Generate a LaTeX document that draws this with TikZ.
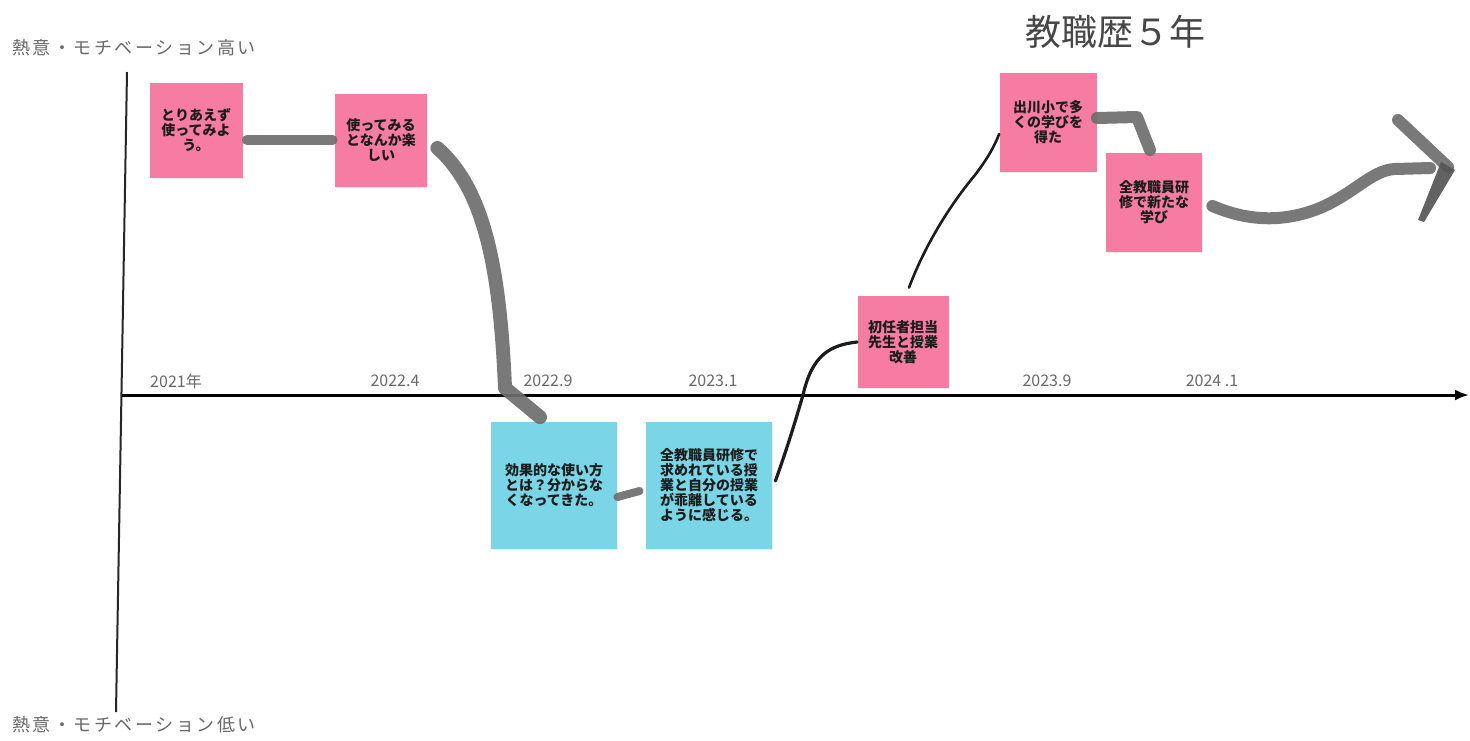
\documentclass[tikz,border=0pt]{standalone}
\usepackage{fontspec}
\newfontfamily\jp{Noto Sans CJK JP}
\newfontfamily\jpspaced{Noto Sans CJK JP}[LetterSpace=14]
\usetikzlibrary{arrows.meta,shadows}
\definecolor{notepink}{RGB}{246,124,164}
\definecolor{notecyan}{RGB}{122,214,230}
\definecolor{brush}{RGB}{110,110,110}
\definecolor{ink}{RGB}{28,28,28}
\definecolor{labelgray}{RGB}{105,105,105}
\definecolor{titlegray}{RGB}{70,70,70}
\begin{document}
\begin{tikzpicture}[x=0.5pt,y=-0.5pt,
  note/.style={draw=none, align=center, inner sep=0pt,
    font=\jp\bfseries\fontsize{7pt}{7.6pt}\selectfont, text=ink,
    drop shadow={opacity=0.15,shadow xshift=0.4pt,shadow yshift=-0.7pt}},
  pinknote/.style={note, fill=notepink},
  cyannote/.style={note, fill=notecyan},
  brushstroke/.style={draw=brush, line width=6pt, line cap=round, line join=round, opacity=0.92},
  penstroke/.style={draw=ink, line width=1.6pt, line cap=round, line join=round},
  yearlbl/.style={font=\jp\fontsize{8pt}{9pt}\selectfont, text=labelgray, inner sep=0pt},
  axislbl/.style={font=\jpspaced\fontsize{9pt}{10pt}\selectfont, text=labelgray, anchor=west, inner sep=0pt},
  axisline/.style={draw=black, line width=1.5pt}]

\useasboundingbox (0,0) rectangle (1470,740);
\fill[white] (0,0) rectangle (1470,740);

% title
\node[font=\jp\fontsize{18pt}{20pt}\selectfont, text=titlegray, inner sep=0pt] (title) at (1115,32) {教職歴５年};

% axis labels
\node[axislbl] (high) at (12,48) {熱意・モチベーション高い};
\node[axislbl] (low) at (12,725) {熱意・モチベーション低い};

% axes
\coordinate (vtop) at (127,72);
\coordinate (vbot) at (116,712);
\coordinate (hstart) at (122,395);
\coordinate (hend) at (1469,395);
\draw[draw=black!85, line width=1pt] (vtop) -- (vbot);
\draw[axisline, -{Latex[length=7pt,width=5.5pt]}] (hstart) -- (hend);

% year labels
\node[yearlbl] (y1) at (176,381) {2021年};
\node[yearlbl] (y2) at (395,381) {2022.4};
\node[yearlbl] (y3) at (548,381) {2022.9};
\node[yearlbl] (y4) at (713,381) {2023.1};
\node[yearlbl] (y5) at (1047,381) {2023.9};
\node[yearlbl] (y6) at (1212,381) {2024 .1};

% notes
\node[pinknote, minimum width=46.5pt, minimum height=47.5pt] (b1) at (196,130) {とりあえず\\使ってみよ\\う。};
\node[pinknote, minimum width=46pt, minimum height=46.5pt] (b2) at (381,140) {使ってみる\\となんか楽\\しい};
\node[cyannote, minimum width=63pt, minimum height=63.5pt] (b3) at (554,485) {効果的な使い方\\とは？分からな\\くなってきた。};
\node[cyannote, minimum width=63pt, minimum height=63.5pt] (b4) at (709,485) {全教職員研修で\\求めれている授\\業と自分の授業\\が乖離している\\ように感じる。};
\node[pinknote, minimum width=45.5pt, minimum height=46pt] (b5) at (903,342) {初任者担当\\先生と授業\\改善};
\node[pinknote, minimum width=48.5pt, minimum height=49.5pt] (b6) at (1048,122) {出川小で多\\くの学びを\\得た};
\node[pinknote, minimum width=48pt, minimum height=49.5pt] (b7) at (1154,202) {全教職員研\\修で新たな\\学び};

% connectors
\draw[brushstroke, line width=5pt] ([xshift=2pt]b1.east |- b2.west) -- ([xshift=-1pt]b2.west);
\coordinate (c23a) at (505,388);
\draw[brushstroke, line width=7pt] ([xshift=5pt,yshift=-4pt]b2.east) .. controls (485,190) and (500,270) .. (c23a) -- ([xshift=-7pt,yshift=2pt]b3.north);
\draw[brushstroke, line width=4pt] ([xshift=0pt,yshift=-6pt]b3.east) -- ([xshift=-3pt,yshift=-3pt]b4.west);
\coordinate (c45) at (803,395);
\draw[penstroke] ([xshift=1.5pt,yshift=2pt]b4.east) .. controls (790,440) and (797,415) .. (c45) .. controls (812,355) and (830,345) .. (b5.west);
\draw[penstroke, line width=1.3pt] ([xshift=3pt,yshift=4pt]b5.north) .. controls (925,245) and (950,205) .. (975,175) .. controls (988,158) and (995,145) .. ([yshift=-6pt]b6.west);
\coordinate (c67) at (1137,117);
\draw[brushstroke] ([yshift=2pt]b6.east) -- (c67) -- ([xshift=-2pt,yshift=1pt]b7.north);
\coordinate (c7a) at (1395,169);
\coordinate (tip) at (1448,167);
\draw[brushstroke] ([xshift=5pt,yshift=-2pt]b7.east) .. controls (1250,222) and (1285,222) .. (1320,208) .. controls (1355,193) and (1372,170) .. (c7a) -- (1430,168);
\draw[brushstroke] (1398,120) -- (tip);
\fill[ink!75, opacity=0.92] (1441,162) -- (1455,170) -- (1424,222) -- (1418,220) -- cycle;
\end{tikzpicture}
\end{document}
